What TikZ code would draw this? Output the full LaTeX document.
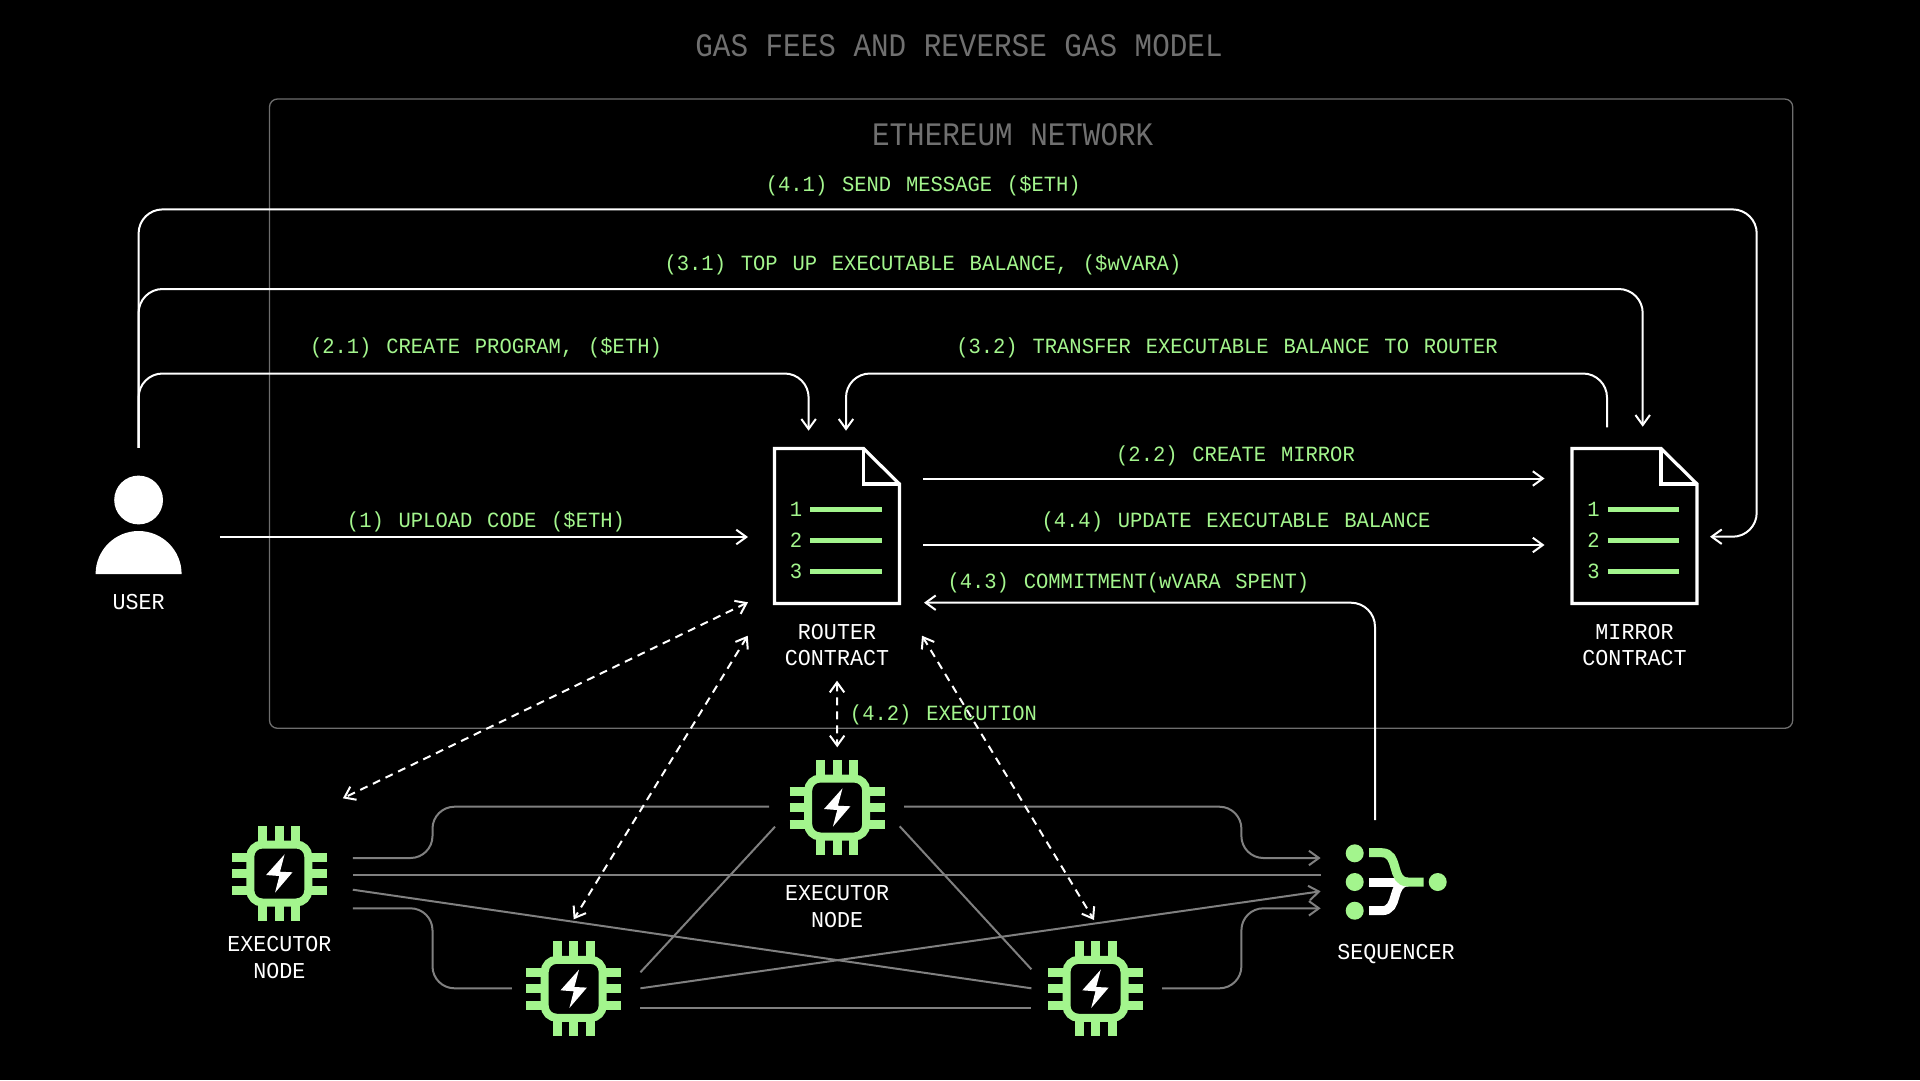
\documentclass[tikz,border=0pt]{standalone}
\usepackage{fontspec}
\usepackage{xcolor}
\usetikzlibrary{arrows.meta,positioning}
\newfontfamily\labelfont[FakeStretch=0.945,WordSpace=1.2]{Liberation Mono}
\newfontfamily\whitefont[FakeStretch=0.955]{Liberation Mono}
\newfontfamily\titlefont[FakeStretch=0.893]{Liberation Mono}
\definecolor{mintgreen}{RGB}{163, 245, 141}
\definecolor{linegray}{RGB}{128, 128, 128}
\definecolor{framegray}{RGB}{110, 110, 110}
\definecolor{titlegray}{RGB}{112, 112, 112}

\begin{document}
\begin{tikzpicture}[
    x=1pt, y=-1pt,
    >={Straight Barb[length=10pt,width=14.5pt]},
    flow/.style={->, draw=white, line width=2pt, rounded corners=24pt},
    duplex/.style={<->, draw=white, line width=2pt, dash pattern=on 8pt off 6pt},
    wire/.style={draw=linegray, line width=2pt, rounded corners=22pt},
    tag/.style={font=\labelfont\fontsize{21.7}{26}\selectfont, text=mintgreen, inner sep=0pt},
    caption/.style={font=\whitefont\fontsize{22.7}{26.5}\selectfont, text=white, align=center, inner sep=0pt},
    heading/.style={font=\titlefont\fontsize{32.8}{38}\selectfont, text=titlegray, inner sep=0pt},
    hole/.style={inner sep=0pt, minimum size=1pt},
    docline/.style={draw=white, line width=3.2pt, line join=miter},
    chippin/.style={draw=mintgreen, line width=9pt},
    chipring/.style={draw=mintgreen, line width=8pt, fill=black, rounded corners=12pt}
]
    \fill[black] (0,0) rectangle (1920,1080);
    \useasboundingbox (0,0) rectangle (1920,1080);

    % Headings and frame
    \node[heading] (title) at (959,46) {GAS FEES AND REVERSE GAS MODEL};
    \draw[framegray, line width=1.3pt, rounded corners=8pt] (269.5,99) rectangle (1792.7,728.3);
    \node[heading] (network) at (1012.7,134.7) {ETHEREUM NETWORK};

    % User
    \node[hole, minimum width=162pt, minimum height=178pt] (user) at (138.6,537) {};
    \fill[white] (138.6,500) circle (24.4);
    \fill[white] (95.6,574) arc[start angle=180, end angle=360, radius=43] -- cycle;
    \node[caption] (userlabel) at (138.6,602) {USER};

    % Contracts
    \foreach \doc/\dx/\dname in {router/837/ROUTER, mirror/1634.5/MIRROR} {
        \node[hole, minimum width=125pt, minimum height=155pt] (\doc) at (\dx,526) {};
        \begin{scope}[shift={(\dx,526)}]
            \draw[docline] (-62.5,-77.5) -- (26.5,-77.5) -- (62.5,-42) -- (62.5,77.5) -- (-62.5,77.5) -- cycle;
            \draw[docline] (26.5,-77.5) -- (26.5,-42) -- (62.5,-42);
            \foreach \i/\ly in {1/-16.5, 2/14.5, 3/45.7} {
                \draw[mintgreen, line width=5pt] (-27,\ly) -- (44.5,\ly);
                \node[tag] (\doc\i) at (-41,\ly) {\i};
            }
        \end{scope}
        \node[caption] (\doc label) at (\dx,645) {\dname\\CONTRACT};
    }

    % Executor nodes
    \foreach \chip/\cx/\cy in {execleft/279.3/873.5, exectop/837.2/807.5, execbottom/573.7/988.8, execright/1095.5/988.8} {
        \node[hole, minimum size=96pt] (\chip) at (\cx,\cy) {};
        \begin{scope}[shift={(\cx,\cy)}]
            \foreach \p in {-16.5,0,16.5} {
                \draw[chippin] (\p,-47.5) -- (\p,47.5);
                \draw[chippin] (-47.5,\p) -- (47.5,\p);
            }
            \draw[chipring] (-29,-29) rectangle (29,29);
            \fill[white] (5.3,-19.2) -- (-13.2,1.5) -- (0,2.5) -- (-4.3,19.2) -- (13.2,-1.2) -- (0.7,-1.8) -- cycle;
        \end{scope}
    }
    \node[caption] (leftlabel) at (279.3,957.3) {EXECUTOR\\NODE};
    \node[caption] (toplabel) at (837.2,906.7) {EXECUTOR\\NODE};

    % Sequencer
    \node[hole, minimum size=96pt] (sequencer) at (1396,882) {};
    \foreach \sx/\sy in {1354.7/853.3, 1354.7/882, 1354.7/910.7, 1437.7/882} {
        \fill[mintgreen] (\sx,\sy) circle (9);
    }
    \draw[white, line width=9pt] (1369,882) -- (1404,882);
    \draw[white, line width=9pt] (1369,910.7) -- (1381.7,910.7) .. controls (1400,910.7) and (1390,882) .. (1408,882);
    \draw[mintgreen, line width=9pt] (1369,852.7) -- (1381.7,852.7) .. controls (1400,852.7) and (1390,882) .. (1408,882) -- (1423.7,882);
    \node[caption] (seqlabel) at (1396,954) {SEQUENCER};

    % Gossip between executors
    \draw[wire] ([shift={(73.5,-15.5)}]execleft.center) -| (432.5,806.7) -- ([shift={(-68,-0.8)}]exectop.center);
    \draw[wire] ([shift={(73.5,34.8)}]execleft.center) -| (432.5,988.3) -- ([shift={(-61.9,-0.5)}]execbottom.center);
    \draw[wire] ([shift={(73.5,16.2)}]execleft.center) -- ([shift={(-64.1,-0.5)}]execright.center);
    \draw[wire] ([shift={(-62.2,19.2)}]exectop.center) -- ([shift={(66.7,-16.5)}]execbottom.center);
    \draw[wire] ([shift={(62.5,18.8)}]exectop.center) -- ([shift={(-64.1,-19.5)}]execright.center);
    \draw[wire] ([shift={(66.7,18.9)}]execbottom.center) -- ([shift={(-64.1,18.9)}]execright.center);

    % Executors to sequencer
    \draw[wire] ([shift={(73.5,1.2)}]execleft.center) -- ([shift={(-75.4,-7.3)}]sequencer.center);
    \draw[wire, ->] ([shift={(66.8,-0.8)}]exectop.center) -| (1241.4,858) -- ([shift={(-75.4,-24)}]sequencer.center);
    \draw[wire, ->] ([shift={(66.7,-0.5)}]execbottom.center) -- ([shift={(-75.4,9.3)}]sequencer.center);
    \draw[wire, ->] ([shift={(66.5,-0.5)}]execright.center) -| (1241.4,908.3) -- ([shift={(-75.4,26.3)}]sequencer.center);

    % Ethereum calls
    \draw[flow] (user.east) -- ([shift={(-89,11)}]router.center);
    \draw[flow] (user.north) |- (1756.7,209.4) |- ([shift={(75.5,10.7)}]mirror.center);
    \draw[flow] (user.north) |- (1642.7,289) -- ([shift={(8.2,-99.3)}]mirror.center);
    \draw[flow] (user.north) |- (808.6,373.5) -- ([shift={(-28.4,-95.3)}]router.center);
    \draw[flow] ([shift={(-27.5,-98.7)}]mirror.center) |- (1227,373.5) -| ([shift={(9,-95.3)}]router.center);
    \draw[flow] ([shift={(86.3,-47.5)}]router.center) -- ([shift={(-90,-47.5)}]mirror.center);
    \draw[flow] ([shift={(86.3,19)}]router.center) -- ([shift={(-90,19)}]mirror.center);
    \draw[flow] ([shift={(-21,-62)}]sequencer.center) |- ([shift={(87,76.7)}]router.center);

    % Execution
    \draw[duplex] ([shift={(-89,76.3)}]router.center) -- ([shift={(63.6,-75.2)}]execleft.center);
    \draw[duplex] ([shift={(-89.3,109.7)}]router.center) -- ([shift={(0,-69.5)}]execbottom.center);
    \draw[duplex] ([shift={(0,154.7)}]router.center) -- ([shift={(0,-60.2)}]exectop.center);
    \draw[duplex] ([shift={(85,109.7)}]router.center) -- ([shift={(-1.5,-68.8)}]execright.center);

    % Labels
    \foreach \n/\tx/\ty/\t in {
        sendtag/923.3/186/{(4.1) SEND MESSAGE (\$ETH)},
        topuptag/923/264.5/{(3.1) TOP UP EXECUTABLE BALANCE, (\$wVARA)},
        createtag/486/347.7/{(2.1) CREATE PROGRAM, (\$ETH)},
        transfertag/1227/347.7/{(3.2) TRANSFER EXECUTABLE BALANCE TO ROUTER},
        mirrortag/1235.5/455.5/{(2.2) CREATE MIRROR},
        updatetag/1236/522/{(4.4) UPDATE EXECUTABLE BALANCE},
        uploadtag/486/522/{(1) UPLOAD CODE (\$ETH)},
        committag/1128.4/582.6/{(4.3) COMMITMENT(wVARA SPENT)},
        exectag/943.5/714.6/{(4.2) EXECUTION}} {
        \node[tag] (\n) at (\tx,\ty) {\t};
    }
\end{tikzpicture}
\end{document}
